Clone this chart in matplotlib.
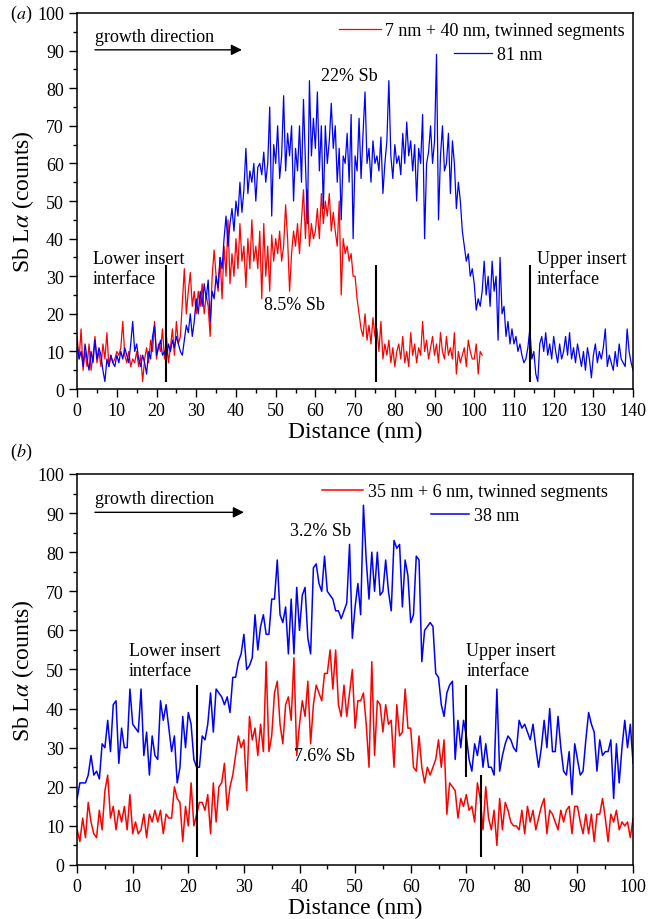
import numpy as np
import matplotlib
matplotlib.use("Agg")
import matplotlib.pyplot as plt
from matplotlib.ticker import MultipleLocator
from matplotlib.legend import Legend

plt.rcParams["font.family"] = ["Liberation Serif", "DejaVu Serif"]
plt.rcParams["mathtext.fontset"] = "stix"

# sampling step of the line scans (nm)
STEP = 0.5

# panel (a): 7 nm + 40 nm twinned segments, 0..102 nm
red_a = [
    14, 8, 16, 5, 10, 6, 12, 5, 9, 14, 7, 10, 6, 12, 8, 15, 6, 9, 7, 8,
    10, 9, 11, 18, 9, 7, 10, 6, 8, 7, 10, 6, 9, 2, 8, 11, 7, 13, 10, 18,
    8, 12, 10, 16, 8, 14, 7, 11, 16, 9, 18, 12, 14, 23, 32, 20, 26, 31, 22, 26,
    20, 26, 22, 28, 20, 25, 22, 14, 30, 37, 30, 26, 35, 24, 38, 30, 45, 28, 36, 30,
    40, 32, 44, 34, 38, 27, 40, 32, 45, 34, 38, 32, 42, 24, 44, 30, 38, 26, 41, 34,
    40, 36, 42, 34, 38, 49, 40, 26, 36, 42, 38, 44, 36, 45, 53, 40, 53, 38, 44, 40,
    42, 48, 40, 52, 44, 50, 46, 52, 42, 47, 42, 38, 50, 25, 40, 36, 38, 34, 36, 30,
    30, 24, 20, 16, 14, 20, 13, 17, 12, 19, 14, 16, 10, 18, 8, 12, 9, 13, 7, 11,
    6, 10, 12, 8, 14, 7, 10, 6, 15, 9, 12, 7, 11, 9, 18, 10, 13, 8, 11, 14,
    9, 12, 7, 15, 10, 8, 14, 9, 11, 8, 15, 4, 10, 7, 9, 11, 6, 13, 10, 8,
    8, 12, 4, 10, 9,
]

# panel (a): 81 nm segment, 0..140 nm
blue_a = [
    12, 8, 10, 6, 12, 8, 5, 10, 7, 13, 8, 11, 9, 5, 2, 8, 6, 9, 7, 6,
    9, 7, 10, 8, 11, 9, 7, 12, 18, 10, 12, 8, 6, 9, 7, 4, 10, 8, 14, 17,
    9, 11, 13, 9, 10, 8, 12, 10, 13, 11, 14, 12, 10, 9, 13, 17, 15, 20, 14, 18,
    24, 20, 26, 22, 28, 24, 29, 18, 26, 24, 30, 27, 35, 32, 40, 46, 38, 44, 48, 42,
    50, 46, 55, 47, 53, 64, 52, 58, 55, 60, 50, 59, 60, 57, 63, 55, 60, 75, 46, 65,
    60, 70, 56, 62, 78, 58, 68, 62, 70, 50, 64, 58, 70, 55, 77, 60, 44, 82, 62, 72,
    64, 79, 58, 70, 48, 70, 60, 66, 76, 64, 70, 55, 64, 45, 62, 60, 68, 55, 73, 40,
    62, 58, 72, 56, 68, 79, 60, 64, 55, 66, 60, 62, 58, 67, 52, 60, 66, 82, 62, 56,
    65, 60, 62, 57, 68, 60, 71, 62, 66, 58, 65, 50, 64, 60, 73, 40, 60, 63, 70, 60,
    66, 89, 45, 62, 70, 58, 60, 68, 52, 66, 60, 48, 55, 50, 42, 38, 34, 36, 30, 32,
    28, 21, 24, 22, 26, 34, 25, 30, 22, 34, 26, 30, 13, 35, 20, 22, 14, 18, 12, 16,
    12, 14, 10, 12, 9, 7, 8, 11, 16, 8, 10, 4, 2, 12, 14, 10, 15, 9, 12, 8,
    14, 10, 7, 12, 8, 10, 14, 9, 15, 8, 11, 7, 12, 9, 6, 10, 5, 11, 8, 3,
    9, 12, 7, 10, 8, 11, 16, 6, 9, 7, 5, 10, 6, 12, 8, 7, 6, 16, 10, 7,
    5,
]

# panel (b): 35 nm + 6 nm twinned segments, 0..100 nm
red_b = [
    9, 6, 12, 7, 16, 11, 8, 7, 14, 9, 19, 23, 12, 15, 9, 14, 11, 15, 9, 18,
    8, 11, 8, 9, 13, 7, 13, 11, 14, 11, 14, 8, 13, 12, 12, 20, 17, 16, 6, 15,
    10, 21, 10, 13, 16, 16, 14, 18, 8, 21, 11, 20, 21, 26, 14, 20, 23, 28, 33, 30,
    32, 19, 38, 32, 35, 28, 36, 29, 52, 29, 33, 44, 47, 36, 31, 41, 43, 37, 53, 28,
    36, 42, 38, 47, 31, 41, 46, 44, 42, 49, 49, 55, 45, 55, 41, 38, 46, 38, 44, 50,
    35, 42, 42, 44, 36, 25, 52, 28, 42, 41, 34, 41, 36, 37, 25, 41, 33, 34, 45, 35,
    35, 25, 24, 33, 25, 21, 25, 23, 25, 27, 32, 25, 32, 13, 21, 20, 19, 12, 17, 15,
    18, 14, 15, 11, 21, 17, 9, 20, 12, 9, 14, 5, 17, 9, 16, 14, 11, 10, 10, 9,
    14, 8, 15, 11, 14, 9, 12, 15, 17, 8, 14, 13, 11, 9, 14, 11, 14, 15, 8, 15,
    15, 11, 8, 13, 8, 13, 6, 13, 13, 17, 12, 6, 13, 11, 14, 9, 11, 10, 11, 7,
    12,
]

# panel (b): 38 nm segment, 0..100 nm
blue_b = [
    17, 21, 21, 21, 23, 28, 23, 24, 22, 31, 30, 37, 29, 41, 42, 26, 35, 30, 30, 45,
    36, 35, 34, 45, 28, 34, 23, 33, 28, 27, 42, 37, 41, 35, 29, 33, 21, 25, 38, 30,
    39, 36, 27, 25, 25, 33, 32, 36, 44, 34, 45, 44, 43, 41, 43, 39, 48, 48, 52, 54,
    59, 50, 51, 53, 64, 55, 61, 64, 59, 59, 68, 68, 78, 64, 62, 66, 54, 68, 54, 71,
    60, 69, 71, 58, 54, 76, 77, 72, 70, 79, 70, 69, 68, 65, 65, 63, 65, 67, 82, 58,
    66, 72, 64, 92, 78, 68, 80, 70, 80, 69, 70, 78, 70, 65, 83, 81, 82, 66, 78, 74,
    62, 64, 79, 78, 52, 60, 61, 62, 61, 49, 48, 41, 38, 44, 46, 47, 27, 37, 30, 37,
    33, 27, 24, 31, 28, 33, 25, 31, 25, 25, 23, 45, 24, 28, 31, 33, 32, 30, 29, 37,
    35, 36, 34, 32, 36, 30, 25, 30, 37, 30, 40, 29, 29, 38, 30, 24, 23, 29, 18, 31,
    27, 23, 24, 32, 39, 36, 34, 24, 32, 28, 29, 29, 32, 17, 31, 21, 30, 37, 30, 36,
    26,
]

# interface marker positions (nm) and their vertical extent (counts)
markers_a = [(22.3, 2, 33), (75.2, 2, 33), (114.0, 2, 33)]
markers_b = [(21.6, 2, 46), (70.0, 22.5, 46), (72.6, 2, 23)]

RED = "#ff0000"
BLUE = "#0000ff"
TICK_FS = 13
LABEL_FS = 17
TEXT_FS = 13


def xs(vals):
    return np.arange(len(vals)) * STEP


def style_axes(ax, xmax):
    ax.set_xlim(0, xmax)
    ax.set_ylim(0, 100)
    ax.xaxis.set_major_locator(MultipleLocator(10))
    ax.xaxis.set_minor_locator(MultipleLocator(5))
    ax.yaxis.set_major_locator(MultipleLocator(10))
    ax.yaxis.set_minor_locator(MultipleLocator(5))
    ax.tick_params(which="both", direction="out", top=False, right=False,
                   labelsize=TICK_FS, width=1)
    ax.tick_params(which="major", length=6)
    ax.tick_params(which="minor", length=3)
    for s in ax.spines.values():
        s.set_linewidth(1.1)
    ax.set_xlabel("Distance (nm)", fontsize=LABEL_FS, labelpad=1)
    ax.set_ylabel(r"Sb L$\alpha$ (counts)", fontsize=LABEL_FS, labelpad=0.5)


def add_entry(ax, line, label, x, y, hl):
    # one legend per entry, placed where the original has it
    leg = Legend(ax, [line], [label], loc="center left", bbox_to_anchor=(x, y),
                 bbox_transform=ax.transData, frameon=False, borderpad=0,
                 borderaxespad=0, handlelength=hl, handletextpad=0.25,
                 fontsize=TEXT_FS)
    ax.add_artist(leg)


def growth_arrow(ax, x0, x1):
    ax.text(x0, 93.7, "growth direction", fontsize=TEXT_FS, ha="left", va="center")
    ax.annotate("", xy=(x1, 90.2), xytext=(x0, 90.2),
                arrowprops=dict(arrowstyle="-|>", color="k", lw=1.0,
                                mutation_scale=16, shrinkA=0, shrinkB=0))


fig = plt.figure(figsize=(6.48, 9.2), dpi=100)

# ---------------- panel (a) ----------------
ax1 = fig.add_axes([0.119, 0.576, 0.858, 0.4088])
r1, = ax1.plot(xs(red_a), red_a, color=RED, lw=0.9)
b1, = ax1.plot(xs(blue_a), blue_a, color=BLUE, lw=0.9)
style_axes(ax1, 140)
for x, y0, y1 in markers_a:
    ax1.vlines(x, y0, y1, color="k", lw=1.5)
growth_arrow(ax1, 4.5, 41.5)
add_entry(ax1, r1, "7 nm + 40 nm, twinned segments", 66, 95.3, 2.3)
add_entry(ax1, b1, "81 nm", 95, 89, 2.1)
ax1.text(68.5, 83.5, "22% Sb", fontsize=TEXT_FS, ha="center", va="center")
ax1.text(54.8, 22.4, "8.5% Sb", fontsize=TEXT_FS, ha="center", va="center")
ax1.text(4, 32, "Lower insert\ninterface", fontsize=TEXT_FS, ha="left",
         va="center", linespacing=1.2)
ax1.text(115.8, 32, "Upper insert\ninterface", fontsize=TEXT_FS, ha="left",
         va="center", linespacing=1.2)
fig.text(0.025, 0.984, "(", fontsize=TEXT_FS, ha="right", va="center")
fig.text(0.025, 0.984, "$a$)", fontsize=TEXT_FS, ha="left", va="center")

# ---------------- panel (b) ----------------
ax2 = fig.add_axes([0.119, 0.0587, 0.858, 0.425])
r2, = ax2.plot(xs(red_b), red_b, color=RED, lw=1.1)
b2, = ax2.plot(xs(blue_b), blue_b, color=BLUE, lw=1.1)
style_axes(ax2, 100)
for x, y0, y1 in markers_b:
    ax2.vlines(x, y0, y1, color="k", lw=1.5)
growth_arrow(ax2, 3.2, 30)
add_entry(ax2, r2, "35 nm + 6 nm, twinned segments", 44, 95.4, 2.3)
add_entry(ax2, b2, "38 nm", 63.7, 89.3, 2.1)
ax2.text(43.8, 85.5, "3.2% Sb", fontsize=TEXT_FS, ha="center", va="center")
ax2.text(44.5, 28, "7.6% Sb", fontsize=TEXT_FS, ha="center", va="center")
ax2.text(9.3, 52.3, "Lower insert\ninterface", fontsize=TEXT_FS, ha="left",
         va="center", linespacing=1.2)
ax2.text(70, 52.3, "Upper insert\ninterface", fontsize=TEXT_FS, ha="left",
         va="center", linespacing=1.2)
fig.text(0.025, 0.508, "(", fontsize=TEXT_FS, ha="right", va="center")
fig.text(0.025, 0.508, "$b$)", fontsize=TEXT_FS, ha="left", va="center")

fig.savefig("out.png", dpi=100)
